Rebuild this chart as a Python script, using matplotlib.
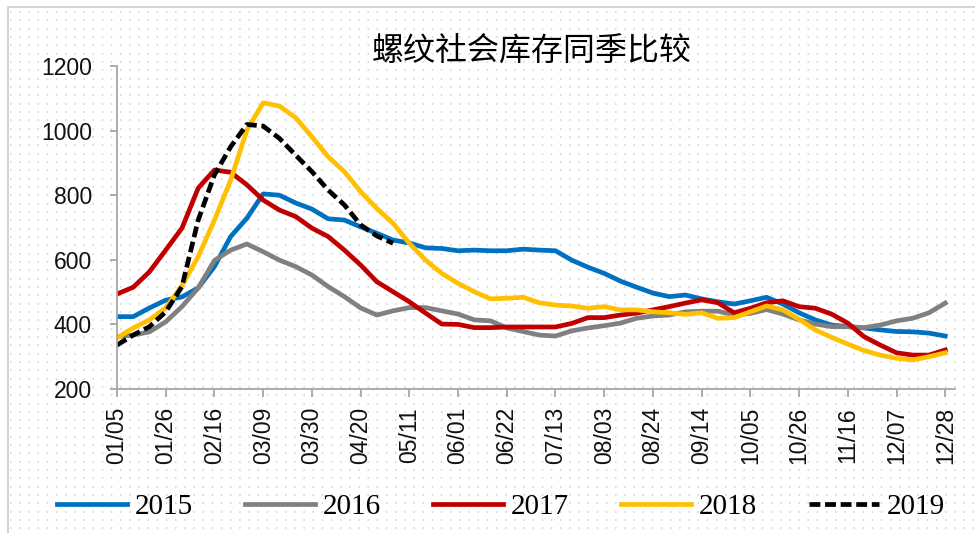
import numpy as np
import pandas as pd
import matplotlib
matplotlib.use('Agg')
import matplotlib.pyplot as plt
from matplotlib.lines import Line2D

# weekly categories (mm/dd), one label every 3 weeks
weeks = pd.date_range('2019-01-05', periods=52, freq='7D').strftime('%m/%d').tolist()

s2015 = [424, 424, 451, 475, 485, 513, 579, 672, 729, 804, 800, 776, 757, 727, 723, 702,
         682, 661, 652, 637, 635, 628, 630, 628, 628, 633, 630, 628, 599, 577, 558, 534,
         515, 497, 486, 491, 479, 470, 463, 473, 484, 463, 436, 414, 398, 393, 389, 383,
         378, 377, 373, 364]
s2016 = [362, 367, 377, 408, 455, 513, 598, 630, 649, 625, 599, 579, 553, 517, 486, 451,
         429, 442, 452, 452, 442, 432, 414, 411, 389, 378, 367, 364, 380, 389, 396, 404,
         419, 426, 429, 439, 441, 441, 429, 434, 446, 432, 414, 401, 393, 393, 390, 398,
         411, 419, 436, 466]
s2017 = [494, 515, 563, 630, 698, 822, 878, 871, 832, 785, 754, 734, 698, 672, 630, 584,
         532, 501, 470, 435, 401, 400, 390, 390, 392, 392, 392, 392, 403, 421, 421, 429,
         435, 445, 455, 466, 476, 467, 436, 450, 467, 473, 455, 450, 432, 404, 362, 336,
         312, 305, 305, 321]
s2018 = [358, 389, 414, 451, 520, 610, 723, 847, 1002, 1086, 1076, 1040, 981, 919, 873, 811,
         759, 713, 651, 599, 558, 527, 501, 479, 481, 484, 467, 460, 457, 450, 455, 445,
         445, 439, 436, 431, 436, 419, 421, 439, 457, 445, 416, 383, 360, 339, 319, 305,
         295, 290, 300, 312]
s2019 = [336, 367, 393, 439, 517, 723, 863, 950, 1019, 1014, 976, 924, 873, 816, 770, 708,
         674, 651]

series = [('2015', s2015, '#0070C0', '-'),
          ('2016', s2016, '#808080', '-'),
          ('2017', s2017, '#C00000', '-'),
          ('2018', s2018, '#FFC000', '-'),
          ('2019', s2019, '#000000', (0, (2.3, 1.0)))]

fig = plt.figure(figsize=(9.75, 5.33), dpi=100)

# dotted background texture + frame
bg = fig.add_axes([0, 0, 1, 1], zorder=-5)
bg.set_xlim(0, 975)
bg.set_ylim(533, 0)
bg.axis('off')
for yy in np.arange(12, 533, 8.33):
    bg.plot([10, 975], [yy, yy], color='#d0d0d0', lw=1.1, ls=(0, (1, 5)))
bg.plot([8, 8, 975], [533, 7, 7], color='#d4d4d4', lw=1.5)

ax = fig.add_axes([117 / 975, 1 - 389 / 533, (955 - 117) / 975, (389 - 66) / 533])
ax.patch.set_alpha(0)

x = np.arange(len(weeks))
for name, vals, col, ls in series:
    ax.plot(x[:len(vals)], vals, color=col, lw=3.4, ls=ls, label=name,
            solid_joinstyle='round', dash_capstyle='butt')

ax.set_xlim(0, 51.6)
ax.set_ylim(200, 1200)
ax.set_yticks(range(200, 1201, 200))
ax.set_xticks(x[::3])
ax.set_xticklabels(weeks[::3], rotation=90)

for sp in ['top', 'right']:
    ax.spines[sp].set_visible(False)
for sp in ['left', 'bottom']:
    ax.spines[sp].set_color('#a6a6a6')
    ax.spines[sp].set_linewidth(1.3)
ax.tick_params(axis='y', length=5, width=1.3, color='#a6a6a6', pad=13,
               labelsize=16.5, labelcolor='#111111')
ax.tick_params(axis='x', length=6, width=1.3, color='#a6a6a6', pad=7,
               labelsize=16.5, labelcolor='#111111')
for lab in ax.get_xticklabels() + ax.get_yticklabels():
    lab.set_family('Liberation Sans')

fig.text(532 / 975, 1 - 52 / 533, '螺纹社会库存同季比较', ha='center', va='center',
         fontsize=23, weight='medium', family=['Noto Sans CJK SC', 'DejaVu Sans'])

handles = [Line2D([], [], color=col, lw=3.4, ls=ls) for _, _, col, ls in series]
fig.legend(handles, [s[0] for s in series], loc='center', ncol=5,
           bbox_to_anchor=(501 / 975, 1 - 507 / 533), frameon=False,
           prop={'family': 'Liberation Serif', 'size': 21},
           handlelength=2.4, handletextpad=0.25, columnspacing=1.8)

fig.savefig('out.png', dpi=100)
